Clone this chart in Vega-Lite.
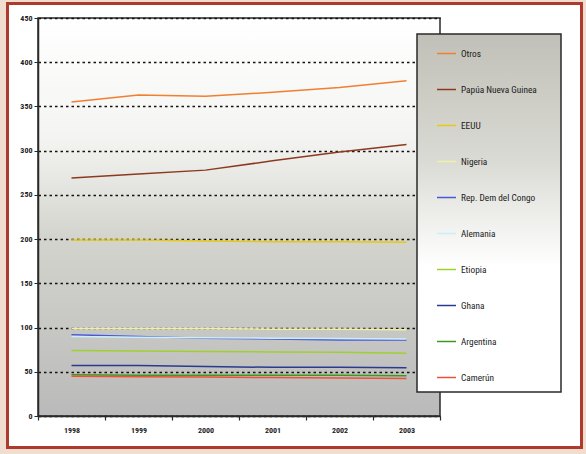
{
  "$schema": "https://vega.github.io/schema/vega-lite/v6.json",
  "width": 402,
  "height": 398,
  "autosize": {"type": "none"},
  "padding": {"left": 38, "top": 18, "right": 146, "bottom": 38},
  "background": "white",
  "config": {
    "font": "Liberation Sans Narrow, Roboto Condensed, Arial Narrow, Liberation Sans, sans-serif",
    "view": {
      "stroke": "#2a2a2a",
      "strokeWidth": 1.5,
      "fill": {
        "gradient": "linear", "x1": 0, "y1": 0, "x2": 0, "y2": 1,
        "stops": [
          {"offset": 0, "color": "#ffffff"},
          {"offset": 0.3, "color": "#f4f4f2"},
          {"offset": 0.55, "color": "#d4d4ce"},
          {"offset": 1, "color": "#bababa"}
        ]
      }
    }
  },
  "datasets": {
    "series": [
      {"year": "1998", "pais": "Otros", "valor": 355},
      {"year": "1999", "pais": "Otros", "valor": 363},
      {"year": "2000", "pais": "Otros", "valor": 361.5},
      {"year": "2001", "pais": "Otros", "valor": 366},
      {"year": "2002", "pais": "Otros", "valor": 371.5},
      {"year": "2003", "pais": "Otros", "valor": 379},
      {"year": "1998", "pais": "Papúa Nueva Guinea", "valor": 269},
      {"year": "1999", "pais": "Papúa Nueva Guinea", "valor": 273.5},
      {"year": "2000", "pais": "Papúa Nueva Guinea", "valor": 278},
      {"year": "2001", "pais": "Papúa Nueva Guinea", "valor": 288.5},
      {"year": "2002", "pais": "Papúa Nueva Guinea", "valor": 298.5},
      {"year": "2003", "pais": "Papúa Nueva Guinea", "valor": 307},
      {"year": "1998", "pais": "EEUU", "valor": 199},
      {"year": "1999", "pais": "EEUU", "valor": 199},
      {"year": "2000", "pais": "EEUU", "valor": 198},
      {"year": "2001", "pais": "EEUU", "valor": 197},
      {"year": "2002", "pais": "EEUU", "valor": 197},
      {"year": "2003", "pais": "EEUU", "valor": 196.5},
      {"year": "1998", "pais": "Nigeria", "valor": 99},
      {"year": "1999", "pais": "Nigeria", "valor": 99},
      {"year": "2000", "pais": "Nigeria", "valor": 99},
      {"year": "2001", "pais": "Nigeria", "valor": 98},
      {"year": "2002", "pais": "Nigeria", "valor": 98},
      {"year": "2003", "pais": "Nigeria", "valor": 97.5},
      {"year": "1998", "pais": "Rep. Dem del Congo", "valor": 92},
      {"year": "1999", "pais": "Rep. Dem del Congo", "valor": 90},
      {"year": "2000", "pais": "Rep. Dem del Congo", "valor": 88},
      {"year": "2001", "pais": "Rep. Dem del Congo", "valor": 87},
      {"year": "2002", "pais": "Rep. Dem del Congo", "valor": 86},
      {"year": "2003", "pais": "Rep. Dem del Congo", "valor": 86},
      {"year": "1998", "pais": "Alemania", "valor": 90},
      {"year": "1999", "pais": "Alemania", "valor": 89},
      {"year": "2000", "pais": "Alemania", "valor": 88.5},
      {"year": "2001", "pais": "Alemania", "valor": 88},
      {"year": "2002", "pais": "Alemania", "valor": 87.5},
      {"year": "2003", "pais": "Alemania", "valor": 87},
      {"year": "1998", "pais": "Etiopia", "valor": 74},
      {"year": "1999", "pais": "Etiopia", "valor": 73.5},
      {"year": "2000", "pais": "Etiopia", "valor": 73},
      {"year": "2001", "pais": "Etiopia", "valor": 72.5},
      {"year": "2002", "pais": "Etiopia", "valor": 72},
      {"year": "2003", "pais": "Etiopia", "valor": 71},
      {"year": "1998", "pais": "Ghana", "valor": 57},
      {"year": "1999", "pais": "Ghana", "valor": 57},
      {"year": "2000", "pais": "Ghana", "valor": 56},
      {"year": "2001", "pais": "Ghana", "valor": 55},
      {"year": "2002", "pais": "Ghana", "valor": 55},
      {"year": "2003", "pais": "Ghana", "valor": 54.5},
      {"year": "1998", "pais": "Argentina", "valor": 46.5},
      {"year": "1999", "pais": "Argentina", "valor": 46},
      {"year": "2000", "pais": "Argentina", "valor": 46},
      {"year": "2001", "pais": "Argentina", "valor": 46},
      {"year": "2002", "pais": "Argentina", "valor": 46},
      {"year": "2003", "pais": "Argentina", "valor": 45.5},
      {"year": "1998", "pais": "Camerún", "valor": 45},
      {"year": "1999", "pais": "Camerún", "valor": 44.5},
      {"year": "2000", "pais": "Camerún", "valor": 44},
      {"year": "2001", "pais": "Camerún", "valor": 43.5},
      {"year": "2002", "pais": "Camerún", "valor": 43},
      {"year": "2003", "pais": "Camerún", "valor": 42.5}
    ]
  },
  "layer": [
    {
      "data": {"values": [{}]},
      "mark": {"type": "rect", "filled": false, "color": "#f0ddd0", "strokeWidth": 14, "clip": false},
      "encoding": {
        "x": {"value": -39}, "x2": {"value": 552},
        "y": {"value": -23}, "y2": {"value": 438}
      }
    },
    {
      "data": {"values": [{}]},
      "mark": {"type": "rect", "filled": false, "color": "#ad3a2c", "strokeWidth": 3, "clip": false},
      "encoding": {
        "x": {"value": -30.5}, "x2": {"value": 543.5},
        "y": {"value": -14.5}, "y2": {"value": 429.5}
      }
    },
    {
      "data": {"name": "series"},
      "mark": {"type": "line", "strokeWidth": 1.5},
      "encoding": {
        "x": {
          "field": "year", "type": "ordinal",
          "scale": {"type": "band", "paddingInner": 0, "paddingOuter": 0},
          "axis": {
            "title": null, "labelAngle": 0, "tickBand": "extent",
            "domainColor": "#2a2a2a", "domainWidth": 1.5,
            "tickColor": "#2a2a2a", "tickSize": 4, "tickWidth": 1.2,
            "labelFontSize": 8, "labelFontWeight": "bold", "labelColor": "#222",
            "labelPadding": 6, "grid": false
          }
        },
        "y": {
          "field": "valor", "type": "quantitative",
          "scale": {"domain": [0, 450], "nice": false},
          "axis": {
            "title": null,
            "values": [0, 50, 100, 150, 200, 250, 300, 350, 400, 450],
            "grid": true, "gridDash": [2.5, 3], "gridColor": "#111", "gridWidth": 1.5, "gridOpacity": 1,
            "domainColor": "#2a2a2a", "domainWidth": 1.5,
            "tickColor": "#2a2a2a", "tickSize": 4,
            "labelFontSize": 8, "labelFontWeight": "bold", "labelColor": "#222",
            "labelPadding": 2
          }
        },
        "color": {
          "field": "pais", "type": "nominal",
          "scale": {
            "domain": ["Otros", "Papúa Nueva Guinea", "EEUU", "Nigeria", "Rep. Dem del Congo", "Alemania", "Etiopia", "Ghana", "Argentina", "Camerún"],
            "range": ["#f08030", "#8b3a20", "#e8c810", "#eef0a8", "#4858d8", "#cceef8", "#a0d030", "#2a3a90", "#3a9a20", "#f05038"]
          },
          "legend": {
            "title": null,
            "orient": "none",
            "legendX": 379,
            "legendY": 16,
            "zindex": 2,
            "symbolType": "stroke",
            "symbolSize": 361,
            "symbolStrokeWidth": 1.5,
            "symbolOffset": 10,
            "labelOffset": 4,
            "labelFontSize": 9.3,
            "labelColor": "#1a1a1a",
            "labelExpr": "datum.label + '\u00a0\u00a0\u00a0\u00a0\u00a0\u00a0\u00a0\u200b'",
            "rowPadding": 20,
            "padding": 9,
            "strokeColor": "#2a2a2a",
            "encode": {
              "legend": {
                "update": {
                  "strokeWidth": {"value": 1.5},
                  "fill": {"value": {
                    "gradient": "linear", "x1": 0, "y1": 0, "x2": 0, "y2": 1,
                    "stops": [
                      {"offset": 0, "color": "#c0c0b8"},
                      {"offset": 0.35, "color": "#dadad4"},
                      {"offset": 0.65, "color": "#ffffff"},
                      {"offset": 1, "color": "#ffffff"}
                    ]
                  }}
                }
              }
            }
          }
        }
      }
    }
  ]
}
